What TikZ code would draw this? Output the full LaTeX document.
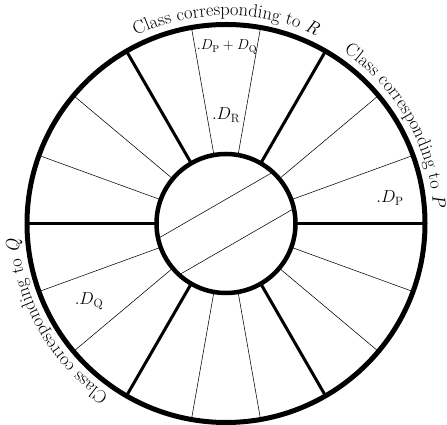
\documentclass[tikz,border=0pt]{standalone}
\usetikzlibrary{decorations.text}
\newcommand\clsfont{\fontsize{18.5}{22}\selectfont}
\newcommand\clsit{\fontsize{18.5}{22}\selectfont\itshape}
\begin{document}
\begin{tikzpicture}[x=1pt,y=1pt,
  ring/.style={line width=5pt},
  hub/.style={line width=4.5pt},
  major/.style={line width=3pt},
  minor/.style={line width=0.55pt},
  classtext/.style={decorate, decoration={text along path, text align=center, text={#1}}},
  lbl/.style={font=\fontsize{16.5}{19}\selectfont, inner sep=0pt, anchor=base},
  slbl/.style={font=\fontsize{14}{17}\selectfont, inner sep=0pt, anchor=base}
]
\useasboundingbox (0,0) rectangle (447,425);
\begin{scope}[shift={(226,201.5)}]
\coordinate (c) at (0,0);
\foreach \a in {20,40,80,100,140,160,200,220,260,280,320,340}
  \draw[minor] (\a:69.5pt) -- (\a:199pt);
\foreach \a in {0,60,...,300}
  \draw[major] (\a:69.5pt) -- (\a:199pt);
\coordinate (ch1a) at (192.4:69.5pt);
\coordinate (ch1b) at (47.6:69.5pt);
\coordinate (ch2a) at (227.6:69.5pt);
\coordinate (ch2b) at (12.4:69.5pt);
\draw[minor] (ch1a) -- (ch1b);
\draw[minor] (ch2a) -- (ch2b);
\draw[hub] (c) circle[radius=69.5pt];
\draw[ring] (c) circle[radius=199pt];
\path[classtext={|\clsfont|Class corresponding to |\clsit|R}]
  (125:208pt) arc[start angle=125, end angle=55, radius=208pt];
\path[classtext={|\clsfont|Class corresponding to |\clsit|P}]
  (65:208pt) arc[start angle=65, end angle=-5, radius=208pt];
\path[classtext={|\clsfont|Class corresponding to |\clsit|Q}]
  (245:208pt) arc[start angle=245, end angle=175, radius=208pt];
\node[slbl] (dpq) at (1,173.5) {$.D_{\mathrm{P}}+D_{\mathrm{Q}}$};
\node[lbl] (dr) at (0,103.5) {$.D_{\mathrm{R}}$};
\node[lbl] (dp) at (164,20.5) {$.D_{\mathrm{P}}$};
\node[lbl] (dq) at (-137,-81.5) {$.D_{\mathrm{Q}}$};
\end{scope}
\end{tikzpicture}
\end{document}
